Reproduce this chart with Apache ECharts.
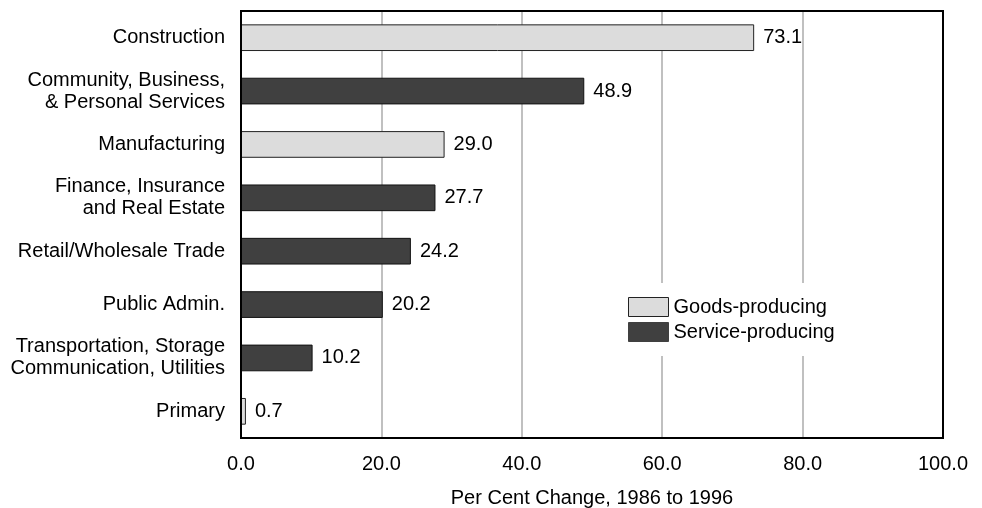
<!DOCTYPE html>
<html>
<head>
<meta charset="utf-8">
<script src="https://cdn.jsdelivr.net/npm/echarts@6/dist/echarts.min.js"></script>
<style>
  html, body { margin: 0; padding: 0; background: #fff; }
  #chart { width: 982px; height: 508px; }
</style>
</head>
<body>
<div id="chart"></div>
<script>
// Industry sectors, top to bottom
const categories = [
  'Construction',
  'Community, Business,\n& Personal Services',
  'Manufacturing',
  'Finance, Insurance\nand Real Estate',
  'Retail/Wholesale Trade',
  'Public Admin.',
  'Transportation, Storage\nCommunication, Utilities',
  'Primary'
];
// Per cent change 1986 to 1996, split by sector type ('-' = not in group)
const goodsValues   = [73.1, '-', 29.0, '-', '-', '-', '-', 0.7];
const serviceValues = ['-', 48.9, '-', 27.7, 24.2, 20.2, 10.2, '-'];
const xTicks = [0, 20, 40, 60, 80, 100];

const font = 'Liberation Sans, Arial, sans-serif';
const FS = 20;
const labelCfg = {
  show: true,
  position: 'right',
  distance: 9,
  color: '#000',
  fontSize: FS,
  fontFamily: font,
  formatter: p => Number(p.value).toFixed(1)
};

const chart = echarts.init(document.getElementById('chart'));
chart.setOption({
  animation: false,
  // the grid rectangle is the black frame, kept above the split lines
  grid: {
    left: 241, right: 39, top: 11, bottom: 70,
    outerBoundsMode: 'none', containLabel: false,
    show: true, z: 10, borderColor: '#000', borderWidth: 2,
    backgroundColor: 'transparent'
  },
  legend: {
    left: 614, top: 283,
    orient: 'vertical',
    icon: 'rect',
    itemWidth: 40, itemHeight: 19, itemGap: 5,
    padding: [14, 14, 14, 14],
    backgroundColor: '#fff',
    textStyle: { color: '#000', fontSize: FS, fontFamily: font },
    data: [
      { name: 'Goods-producing', itemStyle: { color: '#dcdcdc', borderColor: '#222', borderWidth: 1 } },
      { name: 'Service-producing', itemStyle: { color: '#404040', borderColor: '#404040', borderWidth: 1 } }
    ]
  },
  xAxis: {
    type: 'value',
    min: xTicks[0], max: xTicks[xTicks.length - 1], interval: 20,
    name: 'Per Cent Change, 1986 to 1996',
    nameLocation: 'middle', nameGap: 50,
    nameTextStyle: { color: '#000', fontSize: FS, fontFamily: font },
    axisLine: { show: false },
    axisTick: { show: false },
    axisLabel: {
      color: '#000', fontSize: FS, fontFamily: font, margin: 16,
      formatter: v => v.toFixed(1)
    },
    splitLine: { show: true, lineStyle: { color: '#c0c0c0', width: 2 } }
  },
  yAxis: {
    type: 'category',
    data: categories,
    inverse: true,
    axisLine: { show: false },
    axisTick: { show: false },
    axisLabel: {
      color: '#000', fontSize: FS, fontFamily: font, margin: 16,
      lineHeight: 22, align: 'right'
    }
  },
  series: [
    {
      name: 'Goods-producing', type: 'bar', stack: 'sector',
      data: goodsValues, barWidth: '50%',
      itemStyle: { color: '#dcdcdc', borderColor: '#222', borderWidth: 1 },
      label: labelCfg
    },
    {
      name: 'Service-producing', type: 'bar', stack: 'sector',
      data: serviceValues, barWidth: '50%',
      itemStyle: { color: '#404040', borderColor: '#111', borderWidth: 1 },
      label: labelCfg
    }
  ]
});
</script>
</body>
</html>
